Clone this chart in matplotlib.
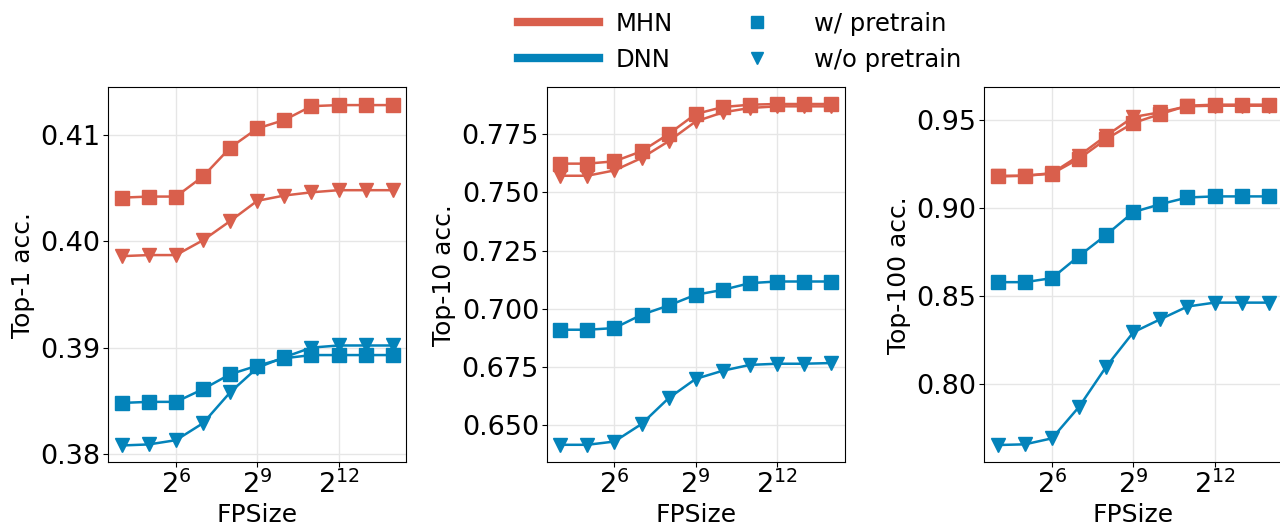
import matplotlib
matplotlib.use('Agg')
import matplotlib.pyplot as plt
from matplotlib.lines import Line2D
from matplotlib.ticker import FixedLocator, NullLocator, FormatStrFormatter

RED = '#d95f4c'
BLUE = '#0383ba'

fp_exp = [4, 5, 6, 7, 8, 9, 10, 11, 12, 13, 14]
fp_size = [2 ** e for e in fp_exp]

# top-1
top1_mhn_pre = [0.4041, 0.4042, 0.4042, 0.4061, 0.4088, 0.4106, 0.4114, 0.4127, 0.4128, 0.4128, 0.4128]
top1_mhn_nopre = [0.3986, 0.3987, 0.3987, 0.4001, 0.4019, 0.4038, 0.4043, 0.4046, 0.4048, 0.4048, 0.4048]
top1_dnn_pre = [0.3848, 0.3849, 0.3849, 0.3861, 0.3875, 0.3883, 0.3890, 0.3893, 0.3893, 0.3893, 0.3893]
top1_dnn_nopre = [0.3808, 0.3809, 0.3813, 0.3829, 0.3858, 0.3881, 0.3891, 0.3900, 0.3902, 0.3902, 0.3902]

# top-10
top10_mhn_pre = [0.7623, 0.7623, 0.7633, 0.7676, 0.7750, 0.7836, 0.7866, 0.7876, 0.7879, 0.7879, 0.7879]
top10_mhn_nopre = [0.7571, 0.7571, 0.7594, 0.7647, 0.7719, 0.7804, 0.7843, 0.7862, 0.7869, 0.7869, 0.7869]
top10_dnn_pre = [0.6910, 0.6910, 0.6917, 0.6974, 0.7014, 0.7060, 0.7081, 0.7110, 0.7117, 0.7117, 0.7117]
top10_dnn_nopre = [0.6416, 0.6416, 0.6430, 0.6505, 0.6616, 0.6699, 0.6734, 0.6759, 0.6764, 0.6764, 0.6767]

# top-100
top100_mhn_pre = [0.9182, 0.9182, 0.9194, 0.9279, 0.9390, 0.9481, 0.9532, 0.9579, 0.9585, 0.9585, 0.9585]
top100_mhn_nopre = [0.9178, 0.9182, 0.9197, 0.9296, 0.9409, 0.9515, 0.9542, 0.9576, 0.9579, 0.9579, 0.9579]
top100_dnn_pre = [0.8579, 0.8579, 0.8602, 0.8728, 0.8847, 0.8976, 0.9021, 0.9059, 0.9065, 0.9065, 0.9065]
top100_dnn_nopre = [0.7656, 0.7660, 0.7694, 0.7873, 0.8100, 0.8295, 0.8369, 0.8441, 0.8463, 0.8463, 0.8463]

panels = [
    ('Top-1 acc.', top1_mhn_pre, top1_mhn_nopre, top1_dnn_pre, top1_dnn_nopre,
     [0.38, 0.39, 0.40, 0.41], '%.2f', (0.3792, 0.4145)),
    ('Top-10 acc.', top10_mhn_pre, top10_mhn_nopre, top10_dnn_pre, top10_dnn_nopre,
     [0.650, 0.675, 0.700, 0.725, 0.750, 0.775], '%.3f', (0.634, 0.7952)),
    ('Top-100 acc.', top100_mhn_pre, top100_mhn_nopre, top100_dnn_pre, top100_dnn_nopre,
     [0.80, 0.85, 0.90, 0.95], '%.2f', (0.7557, 0.9685)),
]

tick_fs = 19.5
label_fs = 18
fig = plt.figure(figsize=(12.80, 5.27), dpi=100)
lefts = [0.0846, 0.4271, 0.769]

for left, (ylabel, mp, mn, dp, dn, yticks, fmt, ylim) in zip(lefts, panels):
    ax = fig.add_axes([left, 0.1224, 0.2328, 0.7125])
    ax.set_xscale('log', base=2)
    for vals, col, mk in [(mn, RED, 'v'), (mp, RED, 's'), (dn, BLUE, 'v'), (dp, BLUE, 's')]:
        ax.plot(fp_size, vals, color=col, marker=mk, markersize=9.5, lw=1.8)
    ax.xaxis.set_major_locator(FixedLocator([2 ** 6, 2 ** 9, 2 ** 12]))
    ax.xaxis.set_minor_locator(NullLocator())
    ax.set_xticklabels(['$2^{6}$', '$2^{9}$', '$2^{12}$'])
    ax.set_yticks(yticks)
    ax.yaxis.set_major_formatter(FormatStrFormatter(fmt))
    ax.set_ylim(*ylim)
    ax.grid(True, color='#e6e6e6', lw=1)
    ax.set_axisbelow(True)
    ax.tick_params(labelsize=tick_fs, pad=2)
    ax.set_xlabel('FPSize', fontsize=label_fs, labelpad=3)
    ax.set_ylabel(ylabel, fontsize=label_fs, labelpad=4)

handles = [
    Line2D([], [], color=RED, lw=6),
    Line2D([], [], color=BLUE, lw=6),
    Line2D([], [], color=BLUE, marker='s', ls='none', markersize=9),
    Line2D([], [], color=BLUE, marker='v', ls='none', markersize=9),
]
labels = ['MHN', 'DNN', 'w/ pretrain', 'w/o pretrain']
fig.legend(handles, labels, ncol=2, loc='center', bbox_to_anchor=(0.578, 0.921),
           frameon=False, fontsize=17.5, handlelength=3.3, handletextpad=0.7,
           columnspacing=1.8, labelspacing=0.5, numpoints=1)

fig.savefig('out.png', dpi=100)
plt.close(fig)
